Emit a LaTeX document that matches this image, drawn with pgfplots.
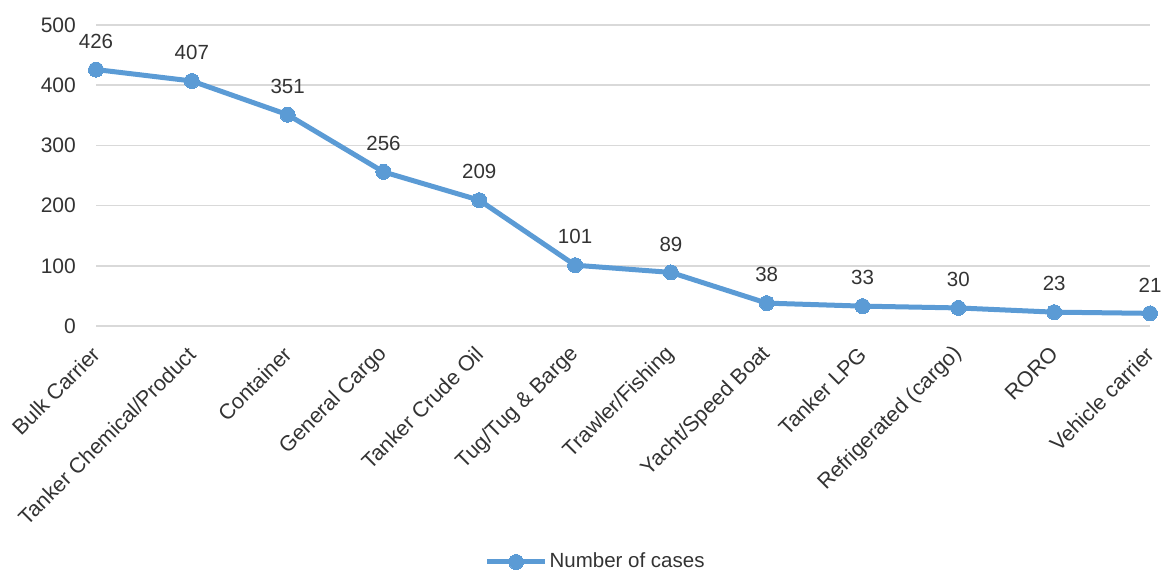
\documentclass[border=0pt]{standalone}
\usepackage{pgfplots}
\pgfplotsset{compat=1.18}
\usepackage{fontspec}
\setmainfont{Liberation Sans}
\usetikzlibrary{calc}

\definecolor{lineblue}{HTML}{5B9BD5}
\definecolor{gridgray}{HTML}{D9D9D9}
\definecolor{txt}{HTML}{333333}

\pgfplotstableread{
x  cases
0  426
1  407
2  351
3  256
4  209
5  101
6  89
7  38
8  33
9  30
10 23
11 21
}\casestable

\begin{document}
\fontsize{20.5}{24}\selectfont
\begin{tikzpicture}
\begin{axis}[
  scale only axis,
  width=1054pt, height=301pt,
  xmin=0, xmax=11, ymin=0, ymax=500,
  axis line style={draw=none},
  major tick length=0pt,
  xtick=data,
  xticklabels={Bulk Carrier, Tanker Chemical/Product, Container, General Cargo,
    Tanker Crude Oil, Tug/Tug \& Barge, Trawler/Fishing, Yacht/Speed Boat,
    Tanker LPG, Refrigerated (cargo), RORO, Vehicle carrier},
  ytick={0,100,...,500},
  ymajorgrids,
  grid style={gridgray, line width=1.5pt},
  /pgf/number format/assume math mode=true,
  tick label style={font=\fontsize{21}{24}\selectfont, text=txt},
  yticklabel style={anchor=east, inner sep=0pt, xshift=-20pt},
  xticklabel style={rotate=45, anchor=east, inner sep=0pt, yshift=-17.5pt, xshift=-17.5pt,
    font=\fontsize{21.5}{24}\selectfont},
  nodes near coords,
  point meta=y,
  every node near coord/.append style={anchor=south, inner sep=0pt, yshift=21pt,
    font=\fontsize{20.5}{24}\selectfont, text=txt},
  legend style={draw=none, fill=none, at={(0.474,-0.784)}, anchor=center,
    font=\fontsize{20.5}{24}\selectfont, text=txt},
  legend image code/.code={%
    \draw[mark repeat=2, mark phase=2, #1] plot coordinates {(0pt,0pt) (29pt,0pt) (58pt,0pt)};},
  clip=false,
]
\addplot[lineblue, line width=5pt, mark=*, mark size=7.5pt,
  mark options={line width=0pt, fill=lineblue}] table[x=x, y=cases] {\casestable};
\addlegendentry{Number of cases}
\coordinate (bl) at (rel axis cs:0,0);
\coordinate (tr) at (rel axis cs:1,1);
\end{axis}
\pgfresetboundingbox
\path ($(bl)+(-96pt,-245pt)$) rectangle ($(tr)+(13pt,25pt)$);
\end{tikzpicture}
\end{document}
